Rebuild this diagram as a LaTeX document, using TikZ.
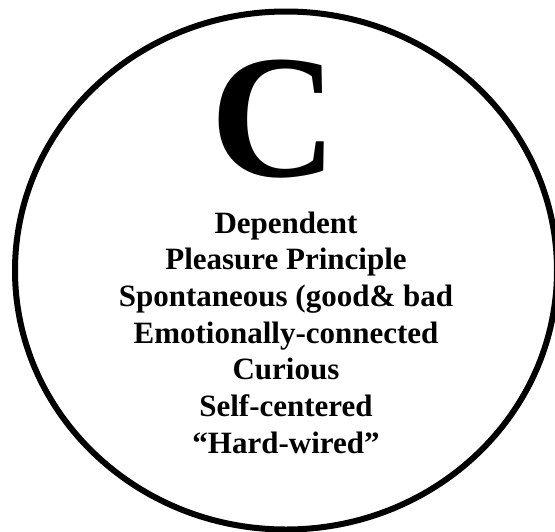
\documentclass[tikz,border=0pt]{standalone}
\usepackage{fontspec}
\setmainfont{Liberation Serif}
\begin{document}
\begin{tikzpicture}[x=1pt, y=-1pt,
    bigletter/.style={anchor=base, inner sep=0pt, text height=122pt, text depth=0pt,
      font=\fontsize{176}{176}\selectfont\bfseries},
    trait/.style={anchor=base, inner sep=0pt, font=\fontsize{31}{36}\selectfont\bfseries}]
  \clip (0,0) rectangle (555,531);
  \draw[line width=6pt] (286,270.5) ellipse [x radius=271pt, y radius=259pt];
  \node[bigletter] (letter) at (274,176) {C};
  \foreach \t [count=\i from 0] in {Dependent, Pleasure Principle, Spontaneous (good\& bad,
      Emotionally-connected, Curious, Self-centered, “Hard-wired”}
    \node[trait] (trait\i) at (286,233+36.67*\i) {\t};
\end{tikzpicture}
\end{document}
